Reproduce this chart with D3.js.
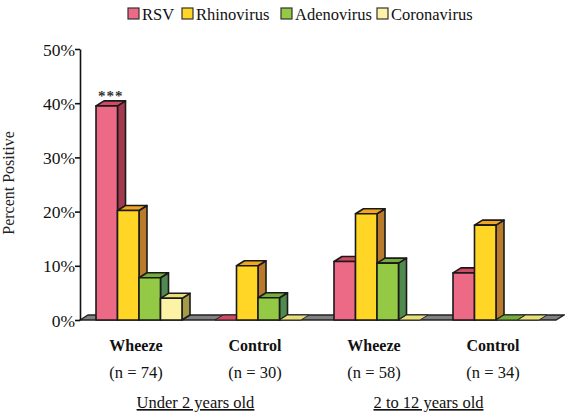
<!DOCTYPE html>
<html><head><meta charset="utf-8">
<script src="https://cdn.jsdelivr.net/npm/d3@7"></script>
<style>body{margin:0;background:#fff}svg{display:block}text{font-family:"Liberation Serif","Times New Roman",serif}</style>
</head><body><div id="c"></div>
<script>
const groups = ["Wheeze|74", "Control|30", "Wheeze|58", "Control|34"];
const groupNames = ["Wheeze", "Control", "Wheeze", "Control"];
const groupN = ["(n = 74)", "(n = 30)", "(n = 58)", "(n = 34)"];
const ageLabels = ["Under 2 years old", "2 to 12 years old"];
const series = ["RSV", "Rhinovirus", "Adenovirus", "Coronavirus"];
const RSV = [0.395, 0, 0.108, 0.087];
const Rhinovirus = [0.202, 0.10, 0.196, 0.175];
const Adenovirus = [0.078, 0.041, 0.105, 0];
const Coronavirus = [0.04, 0, 0, 0];
const yTicks = [0, 0.1, 0.2, 0.3, 0.4, 0.5];
const values = [RSV, Rhinovirus, Adenovirus, Coronavirus];
const front = ["#ec6a86", "#ffd625", "#93c944", "#fdf3a6"];
const top_ = ["#cf4a62", "#f2a51e", "#74ad3c", "#e6df7a"];
const side = ["#a3394e", "#b97a2c", "#4f8a4e", "#a59a4a"];

const W = 565, H = 415;
const svg = d3.select("#c").append("svg").attr("width", W).attr("height", H);
const y = d3.scaleLinear().domain([0, 0.5]).range([320, 49]);
const x0 = d3.scaleBand().domain(groups).range([96 - 16.5, 572 - 16.5]).paddingInner(33/119).paddingOuter(16.5/119);
const x1 = d3.scaleBand().domain(series).range([0, x0.bandwidth()]);
const dx = 8, dy = 5;

// floor
const fy = y(0);
svg.append("path")
  .attr("d", `M80,${fy}L556,${fy}L${556+dx},${fy-dy}L${80+dx},${fy-dy}Z`)
  .attr("fill", "#808080").attr("stroke", "#222").attr("stroke-width", 1.3);

// bars
groups.forEach((g, gi) => {
  series.forEach((s, si) => {
    const v = values[si][gi];
    const bx = x0(g) + x1(s), bw = x1.bandwidth();
    const by = y(v);
    const gEl = svg.append("g").attr("stroke", "#1a1a1a").attr("stroke-width", 1.6).attr("stroke-linejoin", "round");
    if (v > 0) {
      gEl.append("path").attr("d", `M${bx+bw},${fy}L${bx+bw+dx},${fy-dy}L${bx+bw+dx},${by-dy}L${bx+bw},${by}Z`).attr("fill", side[si]);
      gEl.append("path").attr("d", `M${bx},${by}L${bx+dx},${by-dy}L${bx+bw+dx},${by-dy}L${bx+bw},${by}Z`).attr("fill", top_[si]);
      gEl.append("rect").attr("x", bx).attr("y", by).attr("width", bw).attr("height", fy - by).attr("fill", front[si]);
    } else {
      gEl.append("path").attr("d", `M${bx},${fy}L${bx+dx},${fy-dy}L${bx+bw+dx},${fy-dy}L${bx+bw},${fy}Z`).attr("fill", top_[si]).attr("stroke-width", 0.9);
    }
  });
});

// significance marker
svg.append("text").attr("x", x0(groups[0]) + x1("RSV") + x1.bandwidth()/2 + 4).attr("y", y(RSV[0]) - 5)
  .attr("text-anchor", "middle").attr("font-size", 15).attr("font-weight", "bold").attr("fill", "#333").attr("letter-spacing", 1).text("***");

// y axis
const ax = svg.append("g").attr("transform", "translate(80,0)")
  .call(d3.axisLeft(y).tickValues(yTicks).tickFormat(d3.format(".0%")).tickSize(5).tickSizeOuter(0));
ax.select(".domain").attr("stroke", "#111").attr("stroke-width", 1.6);
ax.selectAll(".tick line").attr("stroke", "#111").attr("stroke-width", 1.6);
ax.selectAll(".tick text").attr("font-size", 17.5).attr("fill", "#111").attr("x", -5).attr("dy", "0.35em");

svg.append("text").attr("transform", "translate(14,183) rotate(-90)").attr("text-anchor", "middle")
  .attr("font-size", 16).attr("fill", "#222").text("Percent Positive");

// category labels
groups.forEach((g, gi) => {
  const cx = x0(g) + x0.bandwidth()/2 - 3;
  svg.append("text").attr("x", cx).attr("y", 351).attr("text-anchor", "middle").attr("font-size", 16).attr("font-weight", "bold").attr("fill", "#111").text(groupNames[gi]);
  svg.append("text").attr("x", cx).attr("y", 378).attr("text-anchor", "middle").attr("font-size", 16.5).attr("fill", "#111").text(groupN[gi]);
});
ageLabels.forEach((t, i) => {
  const a = x0(groups[i*2]) + x0.bandwidth()/2, b = x0(groups[i*2+1]) + x0.bandwidth()/2;
  svg.append("text").attr("x", (a+b)/2 - 3 - i*5).attr("y", 408).attr("text-anchor", "middle").attr("font-size", 16.5)
    .attr("text-decoration", "underline").attr("fill", "#111").text(t);
});

// legend
const legX = [128, 182, 281, 377];
series.forEach((s, i) => {
  svg.append("rect").attr("x", legX[i]).attr("y", 8).attr("width", 11).attr("height", 11)
    .attr("fill", front[i]).attr("stroke", "#333").attr("stroke-width", 1.2);
  svg.append("text").attr("x", legX[i] + 14).attr("y", 20).attr("font-size", 16.5).attr("fill", "#111").text(s);
});
</script></body></html>
